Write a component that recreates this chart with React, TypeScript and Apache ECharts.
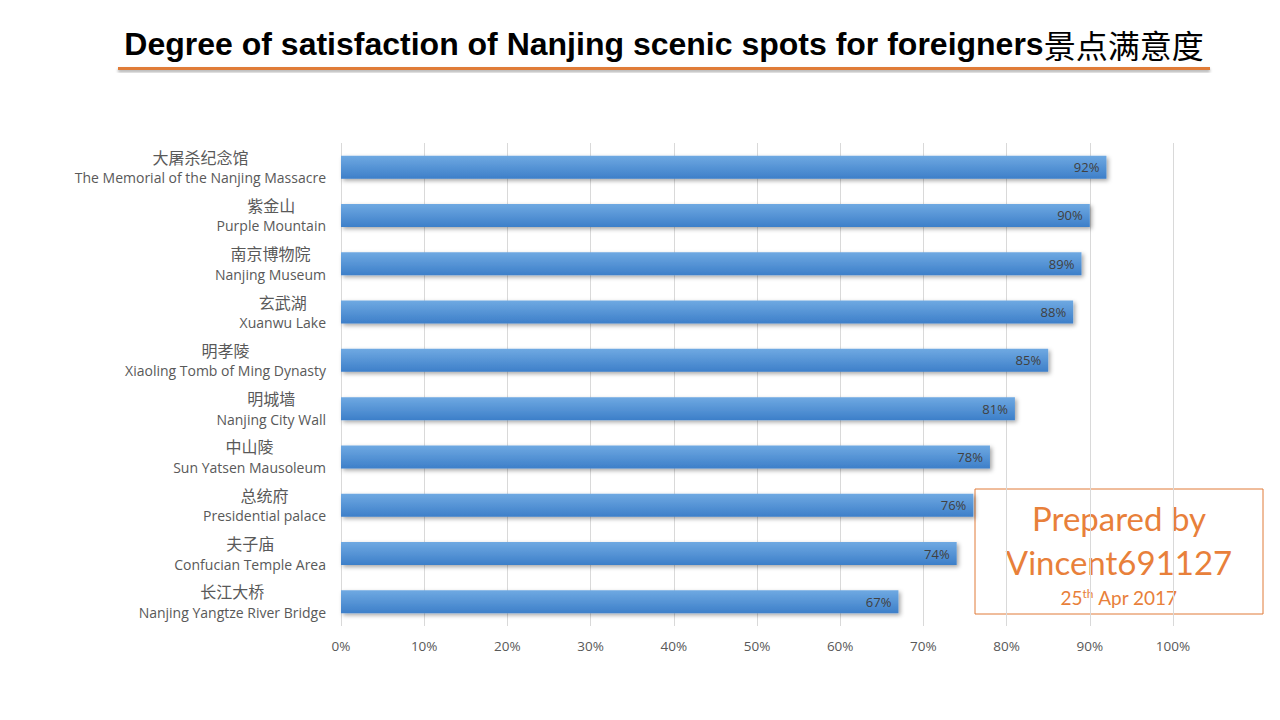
import React, { useEffect, useRef } from "react";
import * as echarts from "echarts";

const categoriesCn = ["大屠杀纪念馆", "紫金山", "南京博物院", "玄武湖", "明孝陵", "明城墙", "中山陵", "总统府", "夫子庙", "长江大桥"];
const categoriesEn = [
  "The Memorial of the Nanjing Massacre",
  "Purple Mountain",
  "Nanjing Museum",
  "Xuanwu Lake",
  "Xiaoling Tomb of Ming Dynasty",
  "Nanjing City Wall",
  "Sun Yatsen Mausoleum",
  "Presidential palace",
  "Confucian Temple Area",
  "Nanjing Yangtze River Bridge",
];
const satisfaction = [92, 90, 89, 88, 85, 81, 78, 76, 74, 67];

const titleText = "Degree of satisfaction of Nanjing scenic spots for foreigners";
const titleCn = "景点满意度";

const labelFont = "'Open Sans', 'Noto Sans', sans-serif";

export default function App() {
  const ref = useRef<HTMLDivElement>(null);
  useEffect(() => {
    if (!ref.current) return;
    const chart = echarts.init(ref.current, null, { renderer: "svg" });
    const cats = categoriesCn.map((c, i) => c + "\n" + categoriesEn[i]);
    chart.setOption({
      animation: false,
      backgroundColor: "#ffffff",
      grid: { left: 341, right: 107, top: 143, bottom: 94, containLabel: false },
      xAxis: {
        type: "value",
        min: 0,
        max: 100,
        interval: 10,
        axisLine: { show: false },
        axisTick: { show: false },
        splitLine: { lineStyle: { color: "#d9d9d9", width: 1 } },
        axisLabel: {
          formatter: (v: number) => v + "%",
          color: "#595959",
          fontSize: 13.5,
          fontFamily: labelFont,
          margin: 13,
        },
      },
      yAxis: {
        type: "category",
        inverse: true,
        data: cats,
        axisLine: { show: false },
        axisTick: { show: false },
        axisLabel: {
          margin: 15,
          align: "right",
          formatter: (v: string) => {
            const [cn, en] = v.split("\n");
            return "{cn|" + cn + "}\n{en|" + en + "}";
          },
          rich: {
            cn: { fontSize: 16, color: "#595959", fontFamily: "'Noto Sans CJK SC', sans-serif", align: "center", lineHeight: 21 },
            en: { fontSize: 14, color: "#595959", fontFamily: labelFont, align: "center", lineHeight: 21 },
          },
        },
      },
      series: [
        {
          type: "bar",
          data: satisfaction,
          barWidth: 23,
          itemStyle: {
            color: new echarts.graphic.LinearGradient(0, 0, 0, 1, [
              { offset: 0, color: "#6fa9e2" },
              { offset: 1, color: "#3d7fc9" },
            ]),
            shadowColor: "rgba(0,0,0,0.35)",
            shadowBlur: 4,
            shadowOffsetX: 2,
            shadowOffsetY: 2,
          },
          label: {
            show: true,
            position: "insideRight",
            formatter: "{c}%",
            color: "#404040",
            fontSize: 13,
            fontFamily: labelFont,
            offset: [-2, 0],
          },
        },
      ],
      graphic: [
        {
          type: "text",
          x: 664,
          y: 44,
          style: {
            text: "{en|" + titleText + "}{cn|" + titleCn + "}",
            align: "center",
            verticalAlign: "middle",
            rich: {
              en: { fontSize: 32, fontWeight: "bold", fontFamily: "'Liberation Sans', Arial, sans-serif", fill: "#000" },
              cn: { fontSize: 32, fontFamily: "'Noto Sans CJK SC', sans-serif", fill: "#000" },
            },
          },
        },
        {
          type: "rect",
          shape: { x: 118, y: 67, width: 1092, height: 3 },
          style: { fill: "#e07b39", shadowColor: "rgba(0,0,0,0.35)", shadowBlur: 3, shadowOffsetY: 2 },
        },
        {
          type: "rect",
          shape: { x: 975, y: 489, width: 288, height: 125 },
          style: { fill: "#ffffff", stroke: "#e07b39", lineWidth: 1 },
        },
        {
          type: "text",
          x: 1119,
          y: 518,
          style: {
            text: "Prepared by",
            fill: "#e8803a",
            fontSize: 33,
            fontFamily: "Lato, 'Noto Sans', sans-serif",
            align: "center",
            verticalAlign: "middle",
          },
        },
        {
          type: "text",
          x: 1119,
          y: 562,
          style: {
            text: "Vincent691127",
            fill: "#e8803a",
            fontSize: 33,
            fontFamily: "Lato, 'Noto Sans', sans-serif",
            align: "center",
            verticalAlign: "middle",
          },
        },
        {
          type: "text",
          x: 1119,
          y: 597,
          style: {
            text: "{n|25}{s|th}{n| Apr 2017}",
            align: "center",
            verticalAlign: "middle",
            rich: {
              n: { fontSize: 19, fill: "#e8803a", fontFamily: "Lato, 'Noto Sans', sans-serif", verticalAlign: "bottom" },
              s: { fontSize: 12, fill: "#e8803a", fontFamily: "Lato, 'Noto Sans', sans-serif", verticalAlign: "top", padding: [0, 0, 8, 0] },
            },
          },
        },
      ],
    });
    return () => chart.dispose();
  }, []);
  return <div ref={ref} style={{ position: "absolute", left: 0, top: 0, width: 1280, height: 720 }} />;
}
